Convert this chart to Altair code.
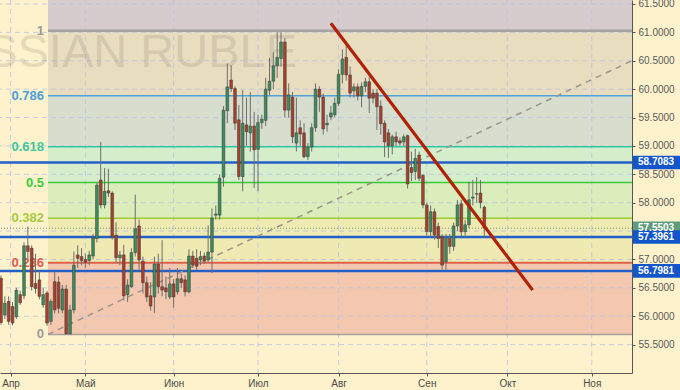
import altair as alt
import pandas as pd

# ---------------- data ----------------
first_index = -2  # trading-day index of the first candle (Apr 3 = 0)
opens = [56.67, 56.02, 56.26, 56.17, 55.99, 56.38, 56.36, 57.24, 57.20, 56.58,
         56.64, 56.20, 56.41, 55.91, 56.61, 56.60, 56.11, 56.48, 55.69, 56.11,
         57.08, 57.05, 57.00, 56.98, 57.06, 57.37, 58.40, 57.96, 58.21, 58.17,
         57.43, 57.03, 57.08, 56.38, 56.52, 57.12, 57.59, 56.97, 56.59, 56.36,
         56.34, 56.92, 56.52, 56.50, 56.34, 56.57, 56.43, 56.66, 56.64, 56.43,
         57.06, 57.02, 56.99, 57.06, 56.99, 57.13, 57.78, 57.78, 58.45, 59.62,
         60.16, 60.01, 59.46, 58.46, 59.37, 59.23, 59.35, 58.94, 59.41, 59.45,
         59.98, 60.14, 60.41, 60.54, 60.83, 59.63, 59.86, 59.05, 59.32, 59.23,
         58.81, 58.98, 59.32, 60.00, 59.86, 59.37, 59.51, 59.55, 59.75, 60.26,
         60.56, 60.25, 59.97, 60.04, 59.88, 60.05, 60.13, 59.93, 59.93, 59.70,
         59.40, 59.23, 59.00, 59.16, 59.09, 59.07, 59.18, 58.62, 58.55, 58.84,
         58.48, 57.96, 57.49, 57.84, 57.58, 57.40, 56.96, 57.37, 57.23, 57.59,
         57.98, 57.49, 57.61, 58.08, 58.15, 58.17, 57.92]
closes = [55.89, 56.23, 55.91, 55.88, 56.46, 56.24, 57.24, 57.14, 56.52, 56.49,
          56.35, 56.38, 55.88, 56.26, 56.11, 56.14, 56.48, 55.69, 56.11, 56.90,
          57.02, 56.98, 56.95, 57.08, 57.38, 58.31, 57.96, 58.20, 58.17, 57.40,
          57.03, 57.08, 56.36, 56.55, 57.12, 57.54, 56.99, 56.59, 56.34, 56.18,
          56.92, 56.52, 56.46, 56.43, 56.57, 56.34, 56.66, 56.59, 56.43, 57.06,
          56.90, 56.88, 57.05, 56.97, 57.13, 57.73, 57.80, 58.43, 59.63, 60.04,
          60.01, 59.40, 58.46, 59.40, 59.25, 59.35, 58.93, 59.41, 59.47, 60.00,
          60.14, 60.41, 60.56, 60.83, 59.63, 59.90, 59.16, 59.23, 59.21, 58.81,
          58.98, 59.32, 60.00, 59.86, 59.30, 59.40, 59.58, 59.75, 60.26, 60.53,
          60.25, 59.93, 60.04, 59.88, 60.05, 60.13, 59.84, 59.84, 59.69, 59.39,
          59.07, 59.00, 59.16, 59.07, 59.05, 59.16, 58.33, 58.53, 58.78, 58.43,
          57.96, 57.49, 57.84, 57.43, 57.37, 56.90, 57.37, 57.23, 57.59, 57.96,
          57.49, 57.61, 58.05, 58.10, 58.16, 58.00, 57.55]
highs = [56.72, 56.35, 56.35, 56.25, 56.50, 56.45, 57.30, 57.58, 57.25, 57.10,
         56.80, 56.50, 56.45, 56.30, 56.79, 56.70, 56.55, 56.55, 56.20, 57.14,
         57.25, 57.20, 57.10, 57.15, 57.45, 58.35, 59.07, 58.61, 58.60, 58.20,
         57.65, 57.15, 57.26, 56.65, 57.20, 58.14, 57.70, 57.05, 56.70, 56.60,
         57.05, 57.10, 57.34, 56.70, 56.85, 56.65, 56.85, 56.75, 56.72, 57.18,
         57.15, 57.18, 57.15, 57.12, 57.60, 57.90, 57.95, 58.50, 59.70, 60.45,
         60.42, 60.05, 59.72, 59.98, 59.85, 59.95, 59.60, 59.55, 59.55, 60.20,
         60.55, 60.65, 61.00, 61.00, 60.90, 60.10, 59.95, 59.85, 59.45, 59.40,
         59.05, 59.40, 60.10, 60.05, 59.92, 59.55, 59.70, 59.85, 60.35, 60.70,
         60.85, 60.40, 60.10, 60.10, 60.12, 60.20, 60.22, 60.00, 60.00, 59.80,
         59.45, 59.30, 59.20, 59.25, 59.15, 59.20, 59.20, 58.90, 58.95, 58.90,
         58.50, 58.00, 57.95, 57.90, 57.65, 57.45, 57.45, 57.45, 57.65, 58.05,
         58.05, 57.70, 58.37, 58.40, 58.45, 58.40, 57.95]
lows = [55.85, 55.95, 55.85, 55.84, 55.95, 56.20, 56.30, 57.00, 56.45, 56.40,
        56.30, 56.15, 55.83, 55.85, 56.05, 56.05, 56.05, 55.68, 55.68, 56.05,
        56.85, 56.90, 56.85, 56.90, 57.00, 57.30, 57.90, 57.90, 58.10, 57.35,
        56.95, 56.90, 56.28, 56.25, 56.50, 57.05, 56.80, 56.40, 56.25, 56.10,
        56.06, 56.40, 56.35, 56.30, 56.30, 56.15, 56.38, 56.50, 56.35, 56.40,
        56.85, 56.82, 56.90, 56.92, 56.95, 56.76, 57.70, 57.70, 58.28, 59.40,
        59.95, 59.28, 58.40, 58.20, 59.00, 58.90, 58.26, 58.20, 59.30, 59.35,
        59.90, 60.00, 60.20, 60.40, 59.50, 59.50, 59.05, 58.90, 59.00, 58.78,
        58.75, 58.90, 59.25, 59.60, 59.20, 59.25, 59.45, 59.50, 59.70, 60.10,
        60.15, 59.85, 59.85, 59.80, 59.68, 59.95, 59.58, 59.75, 59.28, 59.20,
        58.80, 58.79, 58.85, 59.00, 59.00, 59.00, 58.25, 58.38, 58.40, 58.38,
        57.90, 57.42, 57.40, 57.35, 57.20, 56.82, 56.82, 57.10, 57.15, 57.50,
        57.40, 57.40, 57.55, 57.95, 58.00, 57.90, 57.38]

month_labels = ["Апр", "Май", "Июн", "Июл", "Авг", "Сен", "Окт", "Ноя"]
month_pos = [0.5, 20, 43, 65, 86, 109, 130, 152]
price_ticks = [55.5, 56.0, 56.5, 57.0, 57.5, 58.0, 58.5, 59.0, 59.5, 60.0, 60.5, 61.0, 61.5]

fib_low = 55.68
fib_high = 61.03
fib_start = 10.25
fib_ratios = [0, 0.236, 0.382, 0.5, 0.618, 0.786, 1]
fib_texts = ["0", "0.236", "0.382", "0.5", "0.618", "0.786", "1"]
fib_line_colors = ["#A89E9E", "#E0604C", "#9ACD32", "#3ACB3A", "#2EC9A0", "#4FA3DC", "#A8A2A2"]
fib_text_colors = ["#A09A9A", "#E05A50", "#A8CC40", "#3CCB3C", "#3CC8A0", "#4AA0DA", "#9A9A9A"]
fib_line_widths = [1.5, 2, 1.5, 1.5, 1.5, 1.5, 2.5]
band_colors = ["#F4C8AE", "#EEEAB2", "#DAEDBA", "#D6EDCB", "#D7DECE", "#E9DDC0", "#D7CCCD"]

blue_levels = [58.7083, 57.3961, 56.7981]
last_price = 57.5503

diag_x = [10.25, 162.5]
diag_y = [55.68, 60.5]
trend_x = [84.0, 136.6]
trend_y = [61.16, 56.46]

watermark = "RUSSIAN RUBLE"

X_DOMAIN = [-2.26, 162.5]
Y_DOMAIN = [55.0, 61.57]

# ---------------- tables ----------------
candles = pd.DataFrame({
    "idx": [first_index + k for k in range(len(opens))],
    "o": opens, "c": closes, "h": highs, "l": lows,
})
candles["up"] = candles["c"] >= candles["o"]
candles["fill"] = candles["up"].map({True: "#3C8C5C", False: "#A6402A"})

levels = [fib_low + r * (fib_high - fib_low) for r in fib_ratios]
fib = pd.DataFrame({"v": levels, "t": fib_texts, "lc": fib_line_colors,
                    "tc": fib_text_colors, "w": fib_line_widths,
                    "x1": fib_start, "x2": X_DOMAIN[1]})
bands = pd.DataFrame({"lo": levels, "hi": levels[1:] + [Y_DOMAIN[1]],
                      "col": band_colors, "x1": fib_start, "x2": X_DOMAIN[1]})

xs = alt.Scale(domain=X_DOMAIN, nice=False, zero=False)
ys = alt.Scale(domain=Y_DOMAIN, nice=False, zero=False)

label_expr = " : ".join(f"datum.value == {p} ? '{m}'" for p, m in zip(month_pos, month_labels)) + " : ''"
FONT = "Liberation Sans"
xa = alt.Axis(values=month_pos, labelExpr=label_expr, title=None, grid=False,
              orient="bottom", domainColor="#555555", tickColor="#555555", tickSize=3,
              labelColor="#4A4A4A", labelFontSize=10, labelFont=FONT, labelPadding=2,
              labelOverlap=False, labelFlush=False)
ya = alt.Axis(values=price_ticks, format=".4f", title=None, grid=False, orient="right",
              domainColor="#555555", tickColor="#555555", tickSize=3,
              labelColor="#5A5A5A", labelFontSize=10, labelFont=FONT, labelPadding=3,
              labelOverlap=False, labelFlush=False)

def X(field, **kw):
    return alt.X(field, scale=xs, axis=xa, **kw)

def Y(field, **kw):
    return alt.Y(field, scale=ys, axis=ya, **kw)

layers = []

# fib bands
layers.append(alt.Chart(bands).mark_rect().encode(
    x=X("x1:Q"), x2="x2:Q", y=Y("lo:Q"), y2="hi:Q",
    fill=alt.Fill("col:N", scale=None)))

# grid
layers.append(alt.Chart(pd.DataFrame({"p": price_ticks})).mark_rule(
    color="#B9C2E6", strokeDash=[5, 4], strokeWidth=1, opacity=0.8).encode(y=Y("p:Q")))
layers.append(alt.Chart(pd.DataFrame({"m": month_pos})).mark_rule(
    color="#B9C2E6", strokeDash=[5, 4], strokeWidth=1, opacity=0.8).encode(x=X("m:Q")))

# watermark
layers.append(alt.Chart(pd.DataFrame({"t": [watermark]})).mark_text(
    align="right", baseline="alphabetic", fontSize=47, font=FONT,
    color="#8E8276", opacity=0.22).encode(
    x=alt.value(297), y=alt.value(67), text="t:N"))

# fib lines and labels
layers.append(alt.Chart(fib).mark_rule().encode(
    x=X("x1:Q"), x2="x2:Q", y=Y("v:Q"),
    color=alt.Color("lc:N", scale=None),
    strokeWidth=alt.StrokeWidth("w:Q", scale=None)))
layers.append(alt.Chart(fib).mark_text(
    align="right", baseline="middle", dx=-4, fontSize=13, fontWeight="bold", font=FONT).encode(
    x=X("x1:Q"), y=Y("v:Q"), text="t:N", color=alt.Color("tc:N", scale=None)))

# last price dotted line
layers.append(alt.Chart(pd.DataFrame({"v": [last_price]})).mark_rule(
    color="#6E9A78", strokeDash=[1, 2], strokeWidth=1).encode(y=Y("v:Q")))

# blue support/resistance lines
layers.append(alt.Chart(pd.DataFrame({"v": blue_levels})).mark_rule(
    color="#2460C8", strokeWidth=2.5).encode(y=Y("v:Q")))

# dashed diagonal
layers.append(alt.Chart(pd.DataFrame({"x": diag_x, "y": diag_y})).mark_line(
    color="#9A958E", strokeDash=[6, 5], strokeWidth=1.5).encode(x=X("x:Q"), y=Y("y:Q")))

# candles
layers.append(alt.Chart(candles).mark_rule(color="#6E6E6E", strokeWidth=1).encode(
    x=X("idx:Q"), y=Y("l:Q"), y2="h:Q"))
layers.append(alt.Chart(candles).transform_calculate(
    xa="datum.idx - 0.36", xb="datum.idx + 0.36").mark_rect(
    stroke="#3A3A3A", strokeWidth=0.5).encode(
    x=X("xa:Q"), x2="xb:Q", y=Y("o:Q"), y2="c:Q",
    fill=alt.Fill("fill:N", scale=None)))

# red trend line
layers.append(alt.Chart(pd.DataFrame({"x": trend_x, "y": trend_y})).mark_line(
    color="#B02206", strokeWidth=3.2).encode(x=X("x:Q"), y=Y("y:Q")))

# right-side price boxes
boxes = pd.DataFrame({
    "v": [last_price] + blue_levels,
    "col": ["#5E9C7C", "#1356CC", "#1356CC", "#1356CC"],
})
boxes["t"] = boxes["v"].map(lambda v: f"{v:.4f}")
order = [0, 2, 1, 3]
boxes = boxes.iloc[order].reset_index(drop=True)
layers.append(alt.Chart(boxes).transform_calculate(
    lo="datum.v - 0.12", hi="datum.v + 0.12").mark_rect().encode(
    x=alt.value(633), x2=alt.value(680), y=Y("lo:Q"), y2="hi:Q",
    fill=alt.Fill("col:N", scale=None)))
layers.append(alt.Chart(boxes).mark_text(
    align="left", baseline="middle", fontSize=10, fontWeight="bold", font=FONT,
    color="white").encode(x=alt.value(638), y=Y("v:Q"), text="t:N"))

chart = alt.layer(*layers).properties(
    width=632, height=373,
    background="#FEF2CC",
    padding={"left": 0, "top": 0, "right": 48, "bottom": 17},
    autosize=alt.AutoSizeParams(type="none"),
).configure_view(stroke=None, fill=None)

chart.save("out.html", embed_options={"renderer": "svg", "actions": False})
